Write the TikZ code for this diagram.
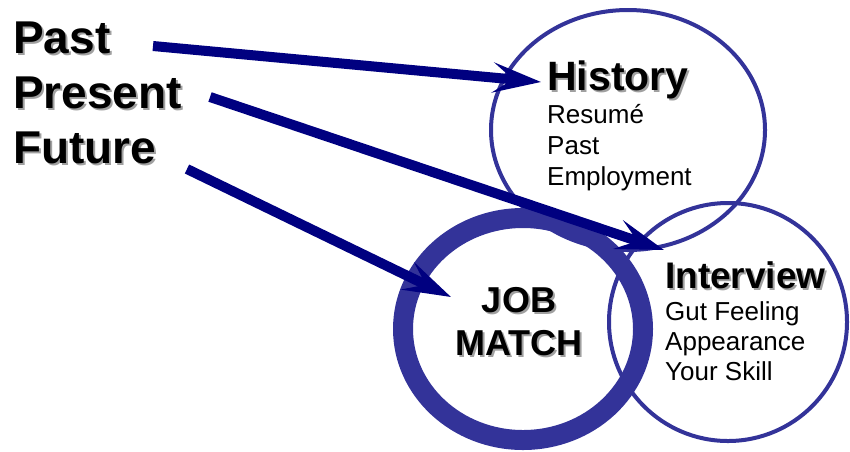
\documentclass[tikz,border=0pt]{standalone}
\usepackage{fontspec}
\setmainfont{Liberation Sans}
\usetikzlibrary{arrows.meta}
\definecolor{ringblue}{RGB}{51,51,153}
\definecolor{arrownavy}{RGB}{0,0,128}
\definecolor{shadowgray}{RGB}{160,160,160}
\newcommand{\shtxt}[1]{\leavevmode\rlap{\kern2pt\raisebox{-2pt}{\textcolor{shadowgray}{#1}}}#1}
\begin{document}
\begin{tikzpicture}[x=1pt,y=-1pt,
  bigword/.style={anchor=base west, inner sep=0pt, font=\fontsize{46}{50}\selectfont\bfseries},
  item/.style={anchor=base west, inner sep=0pt, font=\fontsize{26}{30}\selectfont},
  thinring/.style={draw=ringblue, line width=4pt},
  bigarrow/.style={draw=arrownavy, line width=10pt, -{Stealth[length=48pt,width=30pt,inset=20pt]}}
]
\useasboundingbox (0,0) rectangle (850,451);
% circles
\draw[thinring] (628,130) ellipse [x radius=137, y radius=120];
\draw[thinring] (728,322) circle [radius=119];
\draw[draw=ringblue, line width=20pt] (523,329) ellipse [x radius=120, y radius=111];
% left words
\node[bigword] (past) at (13,53) {\shtxt{Past}};
\node[bigword] (present) at (13,108) {\shtxt{Present}};
\node[bigword] (future) at (13,163) {\shtxt{Future}};
% History
\node[anchor=base west, inner sep=0pt, font=\fontsize{41}{45}\selectfont\bfseries] (history) at (547,90) {\shtxt{History}};
\node[item] (h1) at (547,123) {Resumé};
\node[item] (h2) at (547,154) {Past};
\node[item] (h3) at (547,185) {Employment};
% Interview
\node[anchor=base west, inner sep=0pt, font=\fontsize{37}{41}\selectfont\bfseries] (interview) at (665,288) {\shtxt{Interview}};
\node[item] (i1) at (665,320) {Gut Feeling};
\node[item] (i2) at (665,350) {Appearance};
\node[item] (i3) at (665,380) {Your Skill};
% Job match
\node[anchor=base, inner sep=0pt, font=\fontsize{36}{40}\selectfont\bfseries] (job) at (519,312) {\shtxt{JOB}};
\node[anchor=base, inner sep=0pt, font=\fontsize{36}{40}\selectfont\bfseries] (match) at (519,355) {\shtxt{MATCH}};
% arrow ends
\coordinate (s1) at (153,46);
\coordinate (t1) at (541,82);
\coordinate (s2) at (210,97);
\coordinate (t2) at (664,250);
\coordinate (s3) at (187,169);
\coordinate (t3) at (451,297);
\draw[bigarrow] (s1) -- (t1);
\draw[bigarrow] (s2) -- (t2);
\draw[bigarrow] (s3) -- (t3);
\end{tikzpicture}
\end{document}
